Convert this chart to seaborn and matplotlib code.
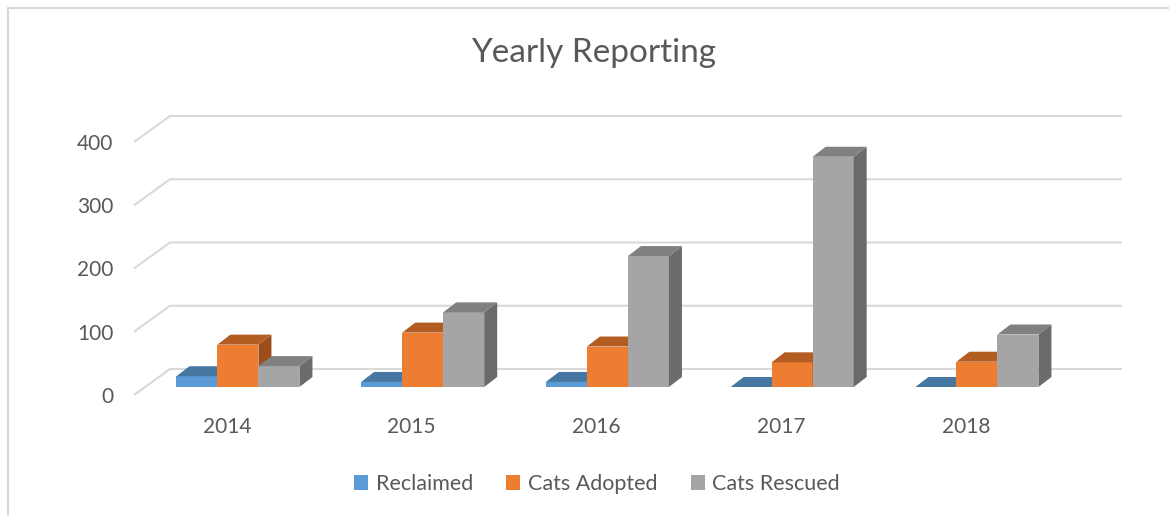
import numpy as np
import pandas as pd
import seaborn as sns
import matplotlib
matplotlib.use("Agg")
import matplotlib.pyplot as plt
from matplotlib import transforms as mtransforms
from matplotlib.patches import Polygon, Patch
from matplotlib.lines import Line2D

# ---------------- data ----------------
years = ["2014", "2015", "2016", "2017", "2018"]
series = ["Reclaimed", "Cats Adopted", "Cats Rescued"]
reclaimed = [17, 8, 8, 0, 0]
adopted = [67, 86, 64, 39, 40]
rescued = [33, 118, 207, 364, 83]
yticks = [0, 100, 200, 300, 400]
title = "Yearly Reporting"

front_colors = ["#5B9BD5", "#ED7D31", "#A5A5A5"]
top_colors = ["#4676A2", "#B45D22", "#808080"]
side_colors = ["#3A6488", "#9B4E1B", "#6B6B6B"]
text_color = "#595959"
grid_color = "#D9D9D9"

df = pd.DataFrame({
    "Year": years * 3,
    "Series": sum([[s] * len(years) for s in series], []),
    "Count": reclaimed + adopted + rescued,
})

sns.set_style("white")
plt.rcParams["font.family"] = ["Lato", "DejaVu Sans"]

W, H = 1169, 516
fig = plt.figure(figsize=(W / 100, H / 100), dpi=100)
fig.patch.set_facecolor("white")

# front plane of the floor (pixel geometry)
L, R, B, T = 134, 1086, 395, 142
ax = fig.add_axes([L / W, 1 - B / H, (R - L) / W, (B - T) / H])
ax.set_facecolor("none")

sns.barplot(data=df, x="Year", y="Count", hue="Series", order=years,
            hue_order=series, palette=front_colors, width=0.666, gap=0,
            saturation=1, linewidth=0, legend=False, ax=ax)

xlim = (-0.503, 4.65)
ylim = (0, 400)
ax.set_xlim(*xlim)
ax.set_ylim(*ylim)

px_per_x = (R - L) / (xlim[1] - xlim[0])
px_per_y = (B - T) / (ylim[1] - ylim[0])

# offsets (pixels)
bar_dx, bar_dy = 11, 8       # bar plane relative to front floor edge
depth_dx, depth_dy = 13, 10  # bar depth
back_dx, back_dy = 36, 26    # back wall relative to front floor edge

bar_off = ax.transData + mtransforms.ScaledTranslation(bar_dx / 100, bar_dy / 100, fig.dpi_scale_trans)
ddx = depth_dx / px_per_x
ddy = depth_dy / px_per_y

for s_idx, cont in enumerate(ax.containers):
    z = 3 + s_idx
    for p in cont.patches:
        x0 = p.get_x()
        w = p.get_width()
        h = p.get_height()
        p.set_transform(bar_off)
        p.set_zorder(z)
        p.set_clip_on(False)
        top = Polygon([(x0, h), (x0 + w, h), (x0 + w + ddx, h + ddy), (x0 + ddx, h + ddy)],
                      closed=True, facecolor=top_colors[s_idx], edgecolor="none",
                      transform=bar_off, zorder=z, clip_on=False)
        side = Polygon([(x0 + w, 0), (x0 + w + ddx, ddy), (x0 + w + ddx, h + ddy), (x0 + w, h)],
                       closed=True, facecolor=side_colors[s_idx], edgecolor="none",
                       transform=bar_off, zorder=z, clip_on=False)
        ax.add_patch(side)
        ax.add_patch(top)

# gridlines: diagonal on side wall + horizontal on back wall
bdx = back_dx / px_per_x
bdy = back_dy / px_per_y
for t in yticks:
    ax.plot([xlim[0], xlim[0] + bdx, xlim[1] + bdx], [t, t + bdy, t + bdy],
            color=grid_color, lw=1.5, zorder=1, clip_on=False, solid_capstyle="butt")

for sp in ax.spines.values():
    sp.set_visible(False)
ax.grid(False)
ax.set_yticks(yticks)
ax.set_yticklabels([str(t) for t in yticks])
ax.set_xticks(range(len(years)))
ax.set_xticklabels(years)
ax.tick_params(axis="y", length=0, pad=15, labelsize=15, labelcolor=text_color)
ax.tick_params(axis="x", length=0, pad=16, labelsize=15, labelcolor=text_color)
ax.set_xlabel("")
ax.set_ylabel("")

fig.text(594 / W, 1 - 53 / H, title, ha="center", va="center",
         fontsize=24, color=text_color)

handles = [Patch(facecolor=c, edgecolor="none", label=s) for s, c in zip(series, front_colors)]
leg = fig.legend(handles=handles, loc="center", bbox_to_anchor=(597 / W, 1 - 484 / H),
                 ncol=3, frameon=False, fontsize=15.5, handlelength=0.65, handleheight=0.65,
                 handletextpad=0.35, columnspacing=1.55)
for txt in leg.get_texts():
    txt.set_color(text_color)

# chart border (top and left edges visible)
fig.add_artist(Line2D([8 / W, 1], [1 - 8 / H, 1 - 8 / H], color=grid_color, lw=1.5,
                      transform=fig.transFigure))
fig.add_artist(Line2D([8 / W, 8 / W], [1 - 8 / H, 0], color=grid_color, lw=1.5,
                      transform=fig.transFigure))

fig.savefig("out.png", dpi=100, facecolor="white")
